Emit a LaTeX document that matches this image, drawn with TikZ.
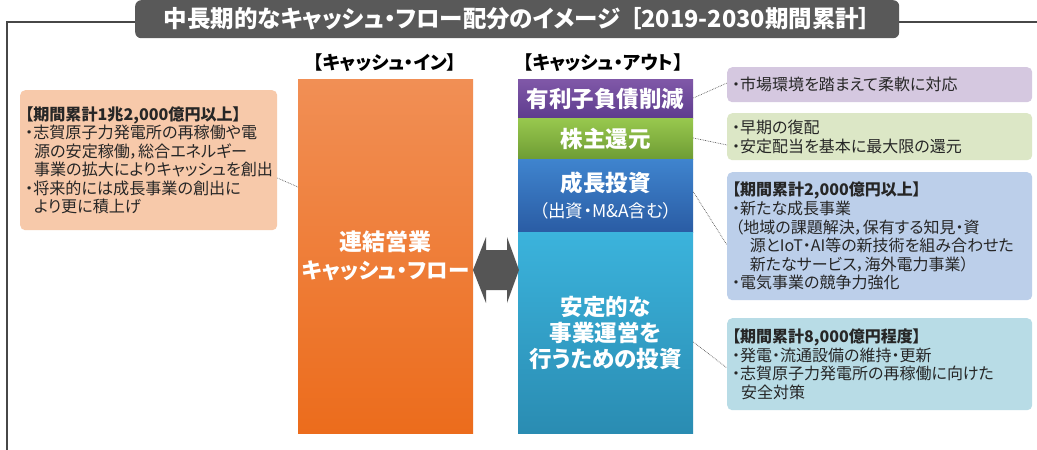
\documentclass[tikz,border=0pt]{standalone}
\usepackage{fontspec}
\setmainfont{Noto Sans CJK JP}[RawFeature=+palt]
\usetikzlibrary{calc}
\definecolor{titlegray}{HTML}{595959}
\definecolor{arrgray}{HTML}{555555}
\definecolor{orTop}{HTML}{F18F55}
\definecolor{orBot}{HTML}{EC6C1C}
\definecolor{puTop}{HTML}{8058A8}
\definecolor{puBot}{HTML}{5E3C8E}
\definecolor{grTop}{HTML}{98C84E}
\definecolor{grBot}{HTML}{6E9C34}
\definecolor{blTop}{HTML}{3F84CE}
\definecolor{blBot}{HTML}{2A5CA4}
\definecolor{lbTop}{HTML}{3BB3DC}
\definecolor{lbBot}{HTML}{2A8CB2}
\definecolor{cOr}{HTML}{F7C9AA}
\definecolor{cPu}{HTML}{D5C8E0}
\definecolor{cGr}{HTML}{DCE7C6}
\definecolor{cBl}{HTML}{BCCFEA}
\definecolor{cLb}{HTML}{B8DCE6}
\definecolor{txt}{HTML}{262626}
\tikzset{
  bigbox/.style={minimum width=175pt, inner sep=0pt, text=white, align=center, font=\fontsize{22.5}{28}\selectfont\bfseries},
  callout/.style={rounded corners=5pt, inner xsep=5pt, inner ysep=2pt, anchor=north west, align=left, text=txt, font=\fontsize{16}{18.6}\selectfont},
  conn/.style={draw=gray!70!black, densely dotted, line width=0.7pt},
  head/.style={font=\fontsize{18.5}{20}\selectfont\bfseries, text=black}
}
\begin{document}
\begin{tikzpicture}[x=1pt,y=-1pt]
\useasboundingbox (0,0) rectangle (1037,450);
\fill[white] (0,0) rectangle (1037,450);
% frame
\draw[line width=1.4pt, draw=titlegray!80!black] (7,450) -- (7,22) -- (1037,22);
% title
\node[fill=titlegray, rounded corners=6pt, minimum width=764pt, minimum height=38pt, anchor=north west, inner sep=0pt, text=white, font=\fontsize{23.5}{26}\selectfont\bfseries] (title) at (135,0) {中長期的なキャッシュ・フロー配分のイメージ\hspace{0.4em}［2019-2030期間累計］};
% headings
\node[head] (hin) at (385,63) {【キャッシュ・イン】};
\node[head] (hout) at (603,63) {【キャッシュ・アウト】};
% cash in
\node[bigbox, top color=orTop, bottom color=orBot, minimum height=354pt, anchor=north west] (orange) at (298,79) {{\fontsize{23}{28}\selectfont 連結営業}\\{\fontsize{21.5}{28}\selectfont キャッシュ・フロー}};
% cash out
\node[bigbox, top color=puTop, bottom color=puBot, minimum height=39pt, anchor=north west] (pu) at (518,79) {有利子負債削減};
\node[bigbox, top color=grTop, bottom color=grBot, minimum height=41pt, anchor=north west] (gr) at (518,118) {株主還元};
\node[bigbox, top color=blTop, bottom color=blBot, minimum height=73pt, anchor=north west] (bl) at (518,159) {成長投資\\[-2pt]{\fontsize{17.5}{20}\selectfont\mdseries （出資・M\&A含む）}};
\node[bigbox, top color=lbTop, bottom color=lbBot, minimum height=201pt, anchor=north west, font=\fontsize{22.5}{26}\selectfont\bfseries] (lb) at (518,232) {安定的な\\事業運営を\\行うための投資};
% double arrow
\fill[arrgray] (473,270) -- (486,237) -- (486,250) -- (507,250) -- (507,237) -- (519,270) -- (507,303) -- (507,290) -- (486,290) -- (486,303) -- cycle;
\node[inner sep=0pt, minimum size=1pt] (arrow) at (496,270) {};
% callouts
\node[callout, fill=cOr, text width=247pt, minimum height=140pt, font=\fontsize{16.1}{18.4}\selectfont] (cL) at (20,90) {{\bfseries 【期間累計1兆2,000億円以上】}\\・志賀原子力発電所の再稼働や電\\\hspace*{0.55em}源の安定稼働，総合エネルギー\\\hspace*{0.55em}事業の拡大によりキャッシュを創出\\・将来的には成長事業の創出に\\\hspace*{0.55em}より更に積上げ};
\node[callout, fill=cPu, text width=295pt, minimum height=35pt] (cP) at (727,67) {・市場環境を踏まえて柔軟に対応};
\node[callout, fill=cGr, text width=295pt, minimum height=47pt] (cG) at (727,113) {・早期の復配\\・安定配当を基本に最大限の還元};
\node[callout, fill=cBl, text width=295pt, minimum height=128pt] (cB) at (727,172) {{\bfseries 【期間累計2,000億円以上】}\\・新たな成長事業\\\hspace*{0.2em}（地域の課題解決，保有する知見・資\\\hspace*{1.1em}源とIoT・AI等の新技術を組み合わせた\\\hspace*{1.1em}新たなサービス，海外電力事業）\\・電気事業の競争力強化};
\node[callout, fill=cLb, text width=295pt, minimum height=92pt] (cLb) at (727,318) {{\bfseries 【期間累計8,000億円程度】}\\・発電・流通設備の維持・更新\\・志賀原子力発電所の再稼働に向けた\\\hspace*{0.55em}安全対策};
% connectors
\draw[conn] (cL.east |- 0,178) -- (orange.west |- 0,187);
\draw[conn] (pu.east |- 0,98) -- (cP.west |- 0,83);
\draw[conn] (gr.east |- 0,138) -- (cG.west |- 0,145);
\draw[conn] (bl.east |- 0,192) -- (cB.west |- 0,245);
\draw[conn] (lb.east |- 0,342) -- (cLb.west |- 0,368);
\end{tikzpicture}
\end{document}
